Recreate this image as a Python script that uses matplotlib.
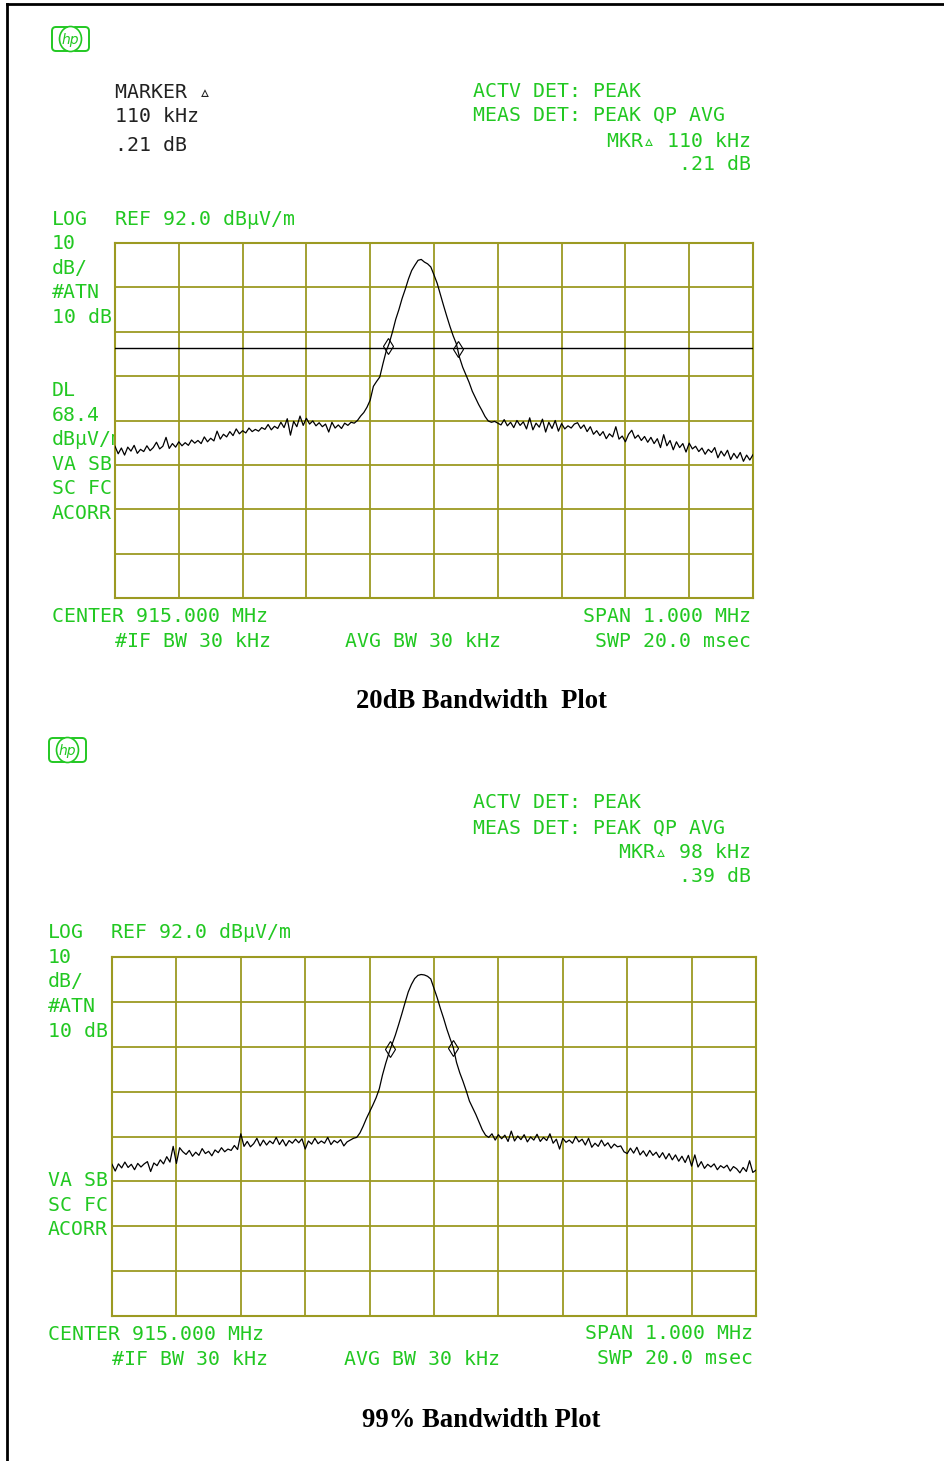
import numpy as np
import matplotlib
matplotlib.use('Agg')
import matplotlib.pyplot as plt
from matplotlib.patches import FancyBboxPatch, Ellipse, Rectangle

# Sweep: 201 points across a 1 MHz span, offsets in kHz from the 915 MHz center
freq_khz = np.arange(-500, 501, 5)

# 20 dB bandwidth trace (dBuV/m)
top_level = [
    46.2, 44.5, 45.8, 44.2, 46.0, 45.1, 46.4, 44.6, 45.5, 45.0,
    46.3, 45.2, 45.9, 47.1, 45.6, 46.2, 48.2, 45.7, 46.8, 46.0,
    47.2, 46.3, 47.0, 46.4, 47.6, 46.9, 47.5, 46.8, 48.3, 47.2,
    48.0, 47.4, 49.6, 47.8, 48.9, 48.3, 49.5, 48.6, 50.1, 49.0,
    49.7, 49.2, 50.3, 49.5, 50.0, 49.6, 50.4, 50.0, 51.1, 49.9,
    50.7, 50.2, 51.6, 50.4, 52.4, 48.7, 51.8, 50.6, 53.0, 50.9,
    52.5, 51.2, 51.9, 50.8, 51.5, 50.6, 51.2, 49.4, 51.6, 50.3,
    51.0, 50.2, 51.4, 50.9, 51.6, 51.4,
    # signal
    52.0, 53.0, 53.8, 55.0, 56.6, 59.7, 60.8, 61.8, 64.8, 67.6,
    69.5, 72.0, 74.8, 77.0, 79.5, 81.6, 83.9, 85.8, 87.0, 88.1,
    88.3, 87.7, 87.3, 86.6, 84.8, 82.9, 80.4, 77.9, 75.5, 73.2,
    71.1, 69.3, 66.2, 64.0, 62.3, 60.6, 58.6, 57.1, 55.6, 54.3,
    52.9, 51.9, 51.6, 51.8, 51.4,
    # upper side
    51.0, 52.2, 50.8, 51.6, 50.4, 52.0, 50.9, 51.7, 50.1, 52.6,
    49.9, 51.4, 50.5, 52.3, 49.4, 51.6, 50.2, 52.0, 49.6, 51.3,
    50.1, 50.8, 50.3, 51.2, 51.5, 50.2, 51.0, 49.5, 50.6, 48.9,
    49.7, 48.6, 49.5, 47.9, 49.0, 48.3, 50.6, 47.8, 48.5, 47.2,
    48.9, 49.8, 48.0, 48.7, 47.5, 48.4, 47.1, 48.2, 46.8, 47.9,
    45.9, 48.8, 46.3, 47.5, 45.4, 47.2, 45.9, 46.8, 44.9, 46.9,
    45.6, 46.2, 45.0, 45.8, 44.4, 45.5, 44.8, 45.9, 43.6, 45.1,
    44.0, 45.3, 43.2, 44.6, 43.5, 44.8, 42.8, 44.2, 43.1, 44.3,
]

# 99% bandwidth trace (dBuV/m)
bottom_level = [
    45.8, 44.3, 45.9, 45.0, 46.3, 45.1, 45.8, 44.6, 46.0, 45.2,
    45.9, 46.4, 44.2, 46.1, 45.5, 46.8, 45.9, 47.5, 46.3, 49.8,
    46.0, 49.5, 48.6, 48.0, 48.9, 47.6, 48.5, 47.8, 49.3, 48.2,
    48.7, 47.7, 49.0, 48.4, 49.5, 48.6, 49.2, 48.9, 50.0, 49.1,
    52.6, 49.8, 50.9, 49.7, 50.4, 51.6, 49.9, 51.2, 50.1, 51.0,
    50.4, 51.8, 50.2, 51.3, 49.9, 51.1, 50.5, 51.4, 50.6, 51.5,
    49.2, 51.0, 50.3, 51.6, 50.4, 51.0, 50.5, 51.8, 50.2, 51.1,
    50.6, 51.3, 49.9, 50.8, 51.2, 51.6,
    # signal
    51.8, 52.8, 54.3, 56.0, 57.5, 59.0, 60.6, 62.6, 65.7, 68.3,
    70.6, 72.6, 74.6, 76.9, 79.3, 81.8, 84.2, 85.9, 87.2, 87.9,
    88.1, 88.0, 87.7, 87.1, 85.0, 82.9, 80.5, 78.3, 75.9, 73.8,
    71.8, 68.5, 66.2, 64.3, 62.2, 59.9, 58.4, 56.9, 55.2, 53.5,
    52.3, 51.8, 52.6, 51.2, 52.4,
    # upper side
    51.5, 52.3, 50.9, 53.2, 51.0, 52.1, 51.3, 52.4, 50.8, 51.9,
    51.2, 52.5, 50.9, 51.8, 51.1, 52.6, 50.5, 51.4, 49.2, 51.6,
    50.7, 51.2, 50.5, 52.0, 50.8, 51.4, 50.1, 51.6, 49.6, 50.5,
    49.8, 51.2, 49.9, 50.6, 49.4, 50.3, 49.7, 49.9, 48.6, 48.2,
    49.4, 48.3, 49.6, 47.9, 48.8, 47.6, 48.9, 47.8, 48.5, 47.3,
    48.4, 47.0, 48.2, 46.8, 47.9, 46.5, 47.6, 46.2, 47.8, 45.4,
    47.9, 45.2, 46.4, 44.9, 45.8, 45.2, 45.9, 44.6, 45.5, 45.0,
    45.6, 44.3, 45.3, 44.8, 43.9, 45.1, 44.2, 46.6, 44.0, 44.5,
]

# Delta marker pairs (kHz offsets) and the display line
top_markers = [-72, 37]
bottom_markers = [-68, 30]
display_line = 68.4

REF_LEVEL = 92.0
DB_PER_DIV = 10
N_DIV_Y = 8

W, H = 945, 1461
GREEN = '#22c822'
GRID = '#9c9a22'
MONO = ['DejaVu Sans Mono', 'DejaVu Sans']
FS = 14.3


def add_axes_px(fig, left, top, right, bottom):
    """
    Add an axes placed by pixel edges (origin at top-left of the picture).
    """
    return fig.add_axes([left / W, 1 - bottom / H, (right - left) / W, (bottom - top) / H])


def txt(bg, x, y, s, color=GREEN, ha='left'):
    """
    Put one line of instrument text; y is the middle of the capitals in pixels.
    """
    bg.text(x, y + 7.3, s, color=color, ha=ha, va='baseline',
            family=MONO, fontsize=FS)


def hp_logo(bg, x0, y0):
    """
    Draw the little HP logo box (x0, y0 = top-left corner in pixels).
    """
    box = FancyBboxPatch((x0 + 1, y0 + 1), 37, 24, boxstyle='round,pad=0,rounding_size=4',
                         fill=False, ec=GREEN, lw=1.4)
    bg.add_patch(box)
    bg.add_patch(Rectangle((x0 + 17, y0 - 1), 5, 4, color='white', zorder=3))
    bg.add_patch(Rectangle((x0 + 17, y0 + 23), 5, 4, color='white', zorder=3))
    bg.add_patch(Ellipse((x0 + 19.5, y0 + 13), 22, 25, fill=False, ec=GREEN, lw=1.2, zorder=4))
    bg.text(x0 + 19.5, y0 + 14, 'hp', color=GREEN, ha='center', va='center',
            fontsize=10, style='italic', family='DejaVu Sans', zorder=5)


def spectrum(ax, level, markers, dl=None):
    """
    Draw the graticule, trace, delta markers and optional display line.
    """
    ax.set_xlim(-500, 500)
    ax.set_ylim(REF_LEVEL - N_DIV_Y * DB_PER_DIV, REF_LEVEL)
    ax.set_xticks(np.arange(-500, 501, 100))
    ax.set_yticks(np.arange(REF_LEVEL - N_DIV_Y * DB_PER_DIV, REF_LEVEL + 1, DB_PER_DIV))
    ax.tick_params(length=0, labelbottom=False, labelleft=False)
    ax.grid(True, color=GRID, lw=1.3)
    for sp in ax.spines.values():
        sp.set_color(GRID)
        sp.set_linewidth(1.5)
    if dl is not None:
        ax.axhline(dl, color='black', lw=1.0, zorder=3)
    ax.plot(freq_khz, level, color='black', lw=0.9, zorder=4)
    mk_level = np.interp(markers, freq_khz, level)
    ax.plot(markers, mk_level, ls='none', marker='d', ms=8, mfc='none',
            mec='black', mew=0.8, zorder=5)


def main():
    """
    Build the two spectrum analyzer screens on one page.
    """
    assert len(top_level) == len(freq_khz) and len(bottom_level) == len(freq_khz)

    fig = plt.figure(figsize=(W / 100, H / 100), dpi=100)
    bg = fig.add_axes([0, 0, 1, 1])
    bg.set_xlim(0, W)
    bg.set_ylim(H, 0)
    bg.axis('off')

    # page frame (top and left edges only)
    bg.plot([7, W], [4, 4], color='black', lw=2)
    bg.plot([7, 7], [4, H], color='black', lw=2)

    # ---- first screen: 20 dB bandwidth ----
    hp_logo(bg, 51, 26)
    txt(bg, 115, 91, 'MARKER \u25b5', color='#222222')
    txt(bg, 115, 115, '110 kHz', color='#222222')
    txt(bg, 115, 144, '.21 dB', color='#222222')
    txt(bg, 473, 90, 'ACTV DET: PEAK')
    txt(bg, 473, 113.5, 'MEAS DET: PEAK QP AVG')
    txt(bg, 751, 139.5, 'MKR\u25b5 110 kHz', ha='right')
    txt(bg, 751, 162.5, '.21 dB', ha='right')
    txt(bg, 52, 217.5, 'LOG')
    txt(bg, 115, 217.5, 'REF 92.0 dB\u00b5V/m')
    for y, s in zip([242, 266.5, 291, 316, 389, 413.5, 438, 462.5, 487, 511.5],
                    ['10', 'dB/', '#ATN', '10 dB', 'DL', '68.4', 'dB\u00b5V/m',
                     'VA SB', 'SC FC', 'ACORR']):
        txt(bg, 52, y, s)
    txt(bg, 52, 615, 'CENTER 915.000 MHz')
    txt(bg, 115, 639.5, '#IF BW 30 kHz')
    txt(bg, 345, 639.5, 'AVG BW 30 kHz')
    txt(bg, 751, 615, 'SPAN 1.000 MHz', ha='right')
    txt(bg, 751, 639.5, 'SWP 20.0 msec', ha='right')
    bg.text(481, 708, '20dB Bandwidth  Plot', ha='center', va='baseline',
            family='Liberation Serif', weight='bold', fontsize=19.2)

    ax1 = add_axes_px(fig, 115, 243, 753, 598)
    spectrum(ax1, top_level, top_markers, dl=display_line)

    # ---- second screen: 99% bandwidth ----
    hp_logo(bg, 48, 737)
    txt(bg, 473, 801, 'ACTV DET: PEAK')
    txt(bg, 473, 826, 'MEAS DET: PEAK QP AVG')
    txt(bg, 751, 851, 'MKR\u25b5 98 kHz', ha='right')
    txt(bg, 751, 875, '.39 dB', ha='right')
    txt(bg, 48, 931, 'LOG')
    txt(bg, 111, 931, 'REF 92.0 dB\u00b5V/m')
    for y, s in zip([956, 980, 1005, 1030, 1178.5, 1203.5, 1228],
                    ['10', 'dB/', '#ATN', '10 dB', 'VA SB', 'SC FC', 'ACORR']):
        txt(bg, 48, y, s)
    txt(bg, 48, 1333, 'CENTER 915.000 MHz')
    txt(bg, 112, 1358, '#IF BW 30 kHz')
    txt(bg, 344, 1358, 'AVG BW 30 kHz')
    txt(bg, 753, 1331.5, 'SPAN 1.000 MHz', ha='right')
    txt(bg, 753, 1357, 'SWP 20.0 msec', ha='right')
    bg.text(481, 1427, '99% Bandwidth Plot', ha='center', va='baseline',
            family='Liberation Serif', weight='bold', fontsize=19.2)

    ax2 = add_axes_px(fig, 112, 957, 756, 1316)
    spectrum(ax2, bottom_level, bottom_markers)

    fig.savefig('out.png', dpi=100)


if __name__ == '__main__':
    main()
